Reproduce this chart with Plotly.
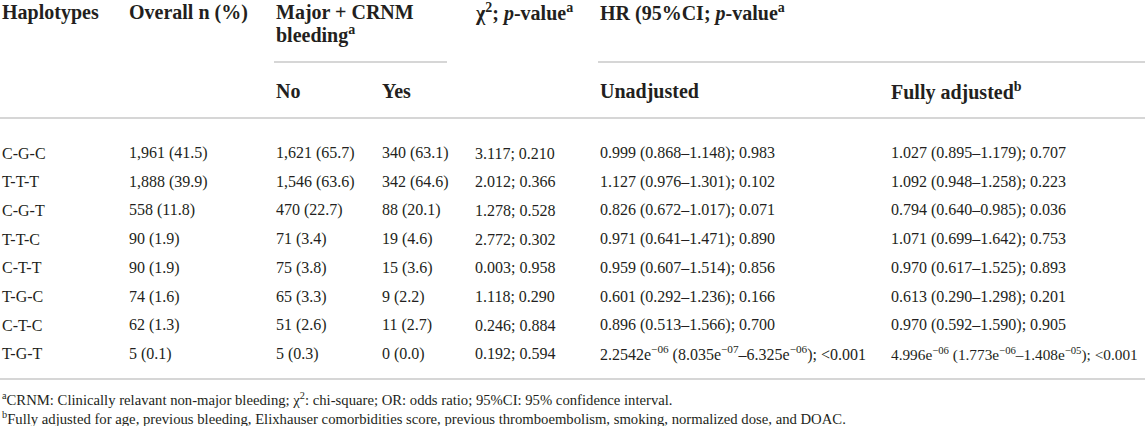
import plotly.graph_objects as go

# table content
haplotypes = ["C-G-C", "T-T-T", "C-G-T", "T-T-C", "C-T-T", "T-G-C", "C-T-C", "T-G-T"]
overall_n = ["1,961 (41.5)", "1,888 (39.9)", "558 (11.8)", "90 (1.9)", "90 (1.9)",
             "74 (1.6)", "62 (1.3)", "5 (0.1)"]
bleed_no = ["1,621 (65.7)", "1,546 (63.6)", "470 (22.7)", "71 (3.4)", "75 (3.8)",
            "65 (3.3)", "51 (2.6)", "5 (0.3)"]
bleed_yes = ["340 (63.1)", "342 (64.6)", "88 (20.1)", "19 (4.6)", "15 (3.6)",
             "9 (2.2)", "11 (2.7)", "0 (0.0)"]
chi2_p = ["3.117; 0.210", "2.012; 0.366", "1.278; 0.528", "2.772; 0.302", "0.003; 0.958",
          "1.118; 0.290", "0.246; 0.884", "0.192; 0.594"]
hr_unadjusted = ["0.999 (0.868–1.148); 0.983", "1.127 (0.976–1.301); 0.102",
                 "0.826 (0.672–1.017); 0.071", "0.971 (0.641–1.471); 0.890",
                 "0.959 (0.607–1.514); 0.856", "0.601 (0.292–1.236); 0.166",
                 "0.896 (0.513–1.566); 0.700",
                 "2.2542e<sup>−06</sup> (8.035e<sup>−07</sup>–6.325e<sup>−06</sup>); <0.001"]
hr_adjusted = ["1.027 (0.895–1.179); 0.707", "1.092 (0.948–1.258); 0.223",
               "0.794 (0.640–0.985); 0.036", "1.071 (0.699–1.642); 0.753",
               "0.970 (0.617–1.525); 0.893", "0.613 (0.290–1.298); 0.201",
               "0.970 (0.592–1.590); 0.905",
               "4.996e<sup>−06</sup> (1.773e<sup>−06</sup>–1.408e<sup>−05</sup>); <0.001"]

footnotes = [
    "<sup>a</sup>CRNM: Clinically relavant non-major bleeding; χ<sup>2</sup>: chi-square; "
    "OR: odds ratio; 95%CI: 95% confidence interval.",
    "<sup>b</sup>Fully adjusted for age, previous bleeding, Elixhauser comorbidities score, "
    "previous thromboembolism, smoking, normalized dose, and DOAC.",
]

FONT = "Liberation Serif"
TXT = "#231f20"
RULE = "#c8c8c8"
HEAD = 20
BODY = 16

col_x = [0, 127, 274, 380, 473, 598, 889]
row_y0, row_dy = 153, 28.7

fig = go.Figure()


def add_text(x, y, text, size=BODY):
    fig.add_annotation(x=x, y=y, text=text, showarrow=False, xanchor="left", yanchor="middle",
                       xref="x", yref="y", font=dict(family=FONT, size=size, color=TXT))


# header
add_text(col_x[0], 12, "<b>Haplotypes</b>", HEAD)
add_text(col_x[1], 12, "<b>Overall n (%)</b>", HEAD)
add_text(col_x[2], 12, "<b>Major + CRNM</b>", HEAD)
add_text(col_x[2], 34, "<b>bleeding<sup>a</sup></b>", HEAD)
add_text(col_x[4], 12, "<b>χ<sup>2</sup>; <i>p</i>-value<sup>a</sup></b>", HEAD)
add_text(col_x[5], 12, "<b>HR (95%CI; <i>p</i>-value<sup>a</sup></b>", HEAD)
add_text(col_x[2], 91, "<b>No</b>", HEAD)
add_text(col_x[3], 91, "<b>Yes</b>", HEAD)
add_text(col_x[5], 91, "<b>Unadjusted</b>", HEAD)
add_text(col_x[6], 91, "<b>Fully adjusted<sup>b</sup></b>", HEAD)

# body
columns = [haplotypes, overall_n, bleed_no, bleed_yes, chi2_p, hr_unadjusted, hr_adjusted]
for c, values in enumerate(columns):
    for r, v in enumerate(values):
        # the last adjusted cell runs to the right edge, set it a touch smaller
        size = 15.3 if (c == 6 and r == len(values) - 1) else BODY
        add_text(col_x[c], row_y0 + r * row_dy, v, size)

for i, note in enumerate(footnotes):
    add_text(0, 399 + i * 18.5, note, 14.7)

# rules
for x0, x1, y in [(274, 447, 62), (598, 1145, 62), (0, 1145, 118), (0, 1145, 379)]:
    fig.add_shape(type="line", x0=x0, x1=x1, y0=y, y1=y, xref="x", yref="y",
                  line=dict(color=RULE, width=1.5))

fig.update_layout(width=1145, height=426, margin=dict(l=0, r=0, t=0, b=0),
                  paper_bgcolor="white", plot_bgcolor="white", showlegend=False)
fig.update_xaxes(range=[0, 1145], visible=False, fixedrange=True)
fig.update_yaxes(range=[426, 0], visible=False, fixedrange=True)

fig.write_html("out.html", config={"displayModeBar": False},
               post_script="document.body.style.margin='0';")
